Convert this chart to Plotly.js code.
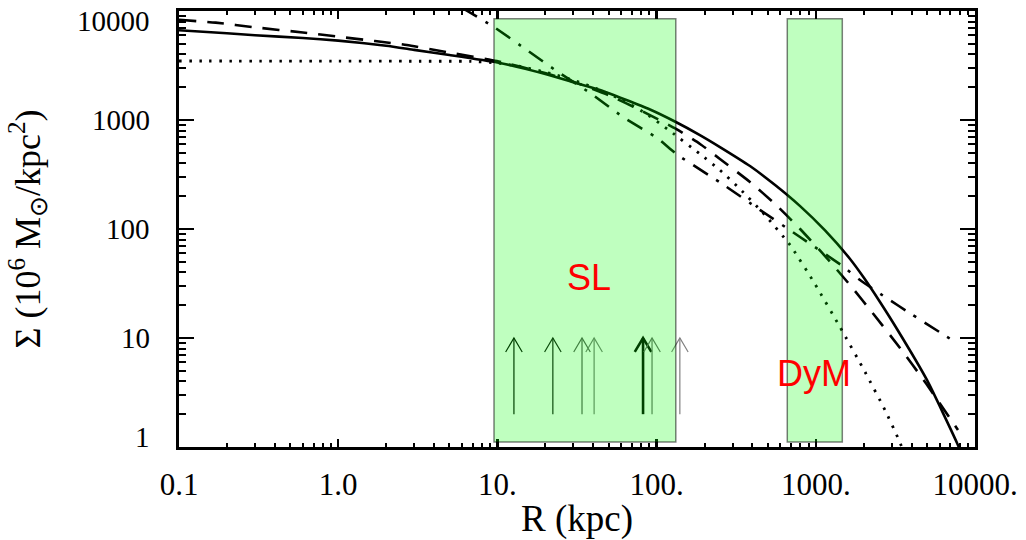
<!DOCTYPE html>
<html>
<head>
<meta charset="utf-8">
<script src="https://cdn.plot.ly/plotly-3.0.1.min.js"></script>
<style>html,body{margin:0;padding:0;background:#fff;}#chart{width:1026px;height:540px;}</style>
</head>
<body>
<div id="chart"></div>
<script>
// ---- data ----
const solidR = [0.1, 0.2, 0.3, 0.6, 1, 2, 3, 5, 10, 20, 30, 44.1, 90.9, 132, 187, 250, 386, 555, 797, 1143, 1641, 2010, 2531, 3236, 4990, 7710, 8650];
const solidS = [6650, 6250, 6000, 5650, 5350, 4800, 4400, 3950, 3370, 2643, 2218, 1884, 1248, 959, 728, 565, 378, 253, 162, 97, 53.1, 35.5, 21.4, 12.1, 4.12, 1.09, 0.73];

const dashedR = [0.1, 0.17, 0.3, 0.6, 1, 1.7, 2.7, 5, 9.94, 19.9, 29.9, 50.6, 79.8, 132.4, 187.5, 250, 386, 555, 797, 1143, 1641, 2355, 3381, 4853, 7818];
const dashedS = [8300, 7820, 7080, 6350, 5810, 5300, 4880, 4150, 3478, 2700, 2250, 1678, 1222, 827, 603, 439, 270, 169.5, 100, 56.5, 30.6, 15.9, 8.1, 3.95, 1.43];

const dottedR = [0.1, 1, 3, 6.73, 9.94, 13.9, 19.9, 29.9, 44.1, 58.9, 84.5, 121.4, 187.5, 250, 334, 480, 689, 988, 1419, 2038, 2722, 3283, 3631];
const dottedS = [3478, 3470, 3460, 3450, 3334, 3097, 2755, 2327, 1884, 1559, 1161, 792, 487, 347, 233, 134, 71.3, 31.3, 12.6, 4.88, 2.18, 1.21, 0.85];

const dashdotR = [6.0, 9.5, 15.3, 24, 38.2, 61.5, 100.6, 136, 250, 445, 800, 1462, 1897, 2720, 4000, 7500];
const dashdotS = [10700, 7130, 4390, 2760, 1770, 1066, 684, 477, 268, 150, 84, 46, 34, 23.8, 16.5, 9.2];

// arrows (lower limits) : position, base, tip
const arrowR = [12.7, 22.3, 34.0, 40.5, 82.2, 93.6, 140];
const arrowBase = [2, 2, 2, 2, 2, 2, 2];
const arrowTip = [10, 10, 10, 10, 10, 10, 10];
const arrowColor = ['#000000', '#111111', '#555555', '#777777', '#000000', '#666666', '#808080'];
const arrowWidth = [1.2, 1.2, 1.2, 1.2, 2.6, 1.2, 1.2];

// shaded regions
const regionNames = ['SL', 'DyM'];
const regionR0 = [9.52, 662];
const regionR1 = [132, 1467];
const regionS0 = [1.11, 1.11];
const regionS1 = [8500, 8500];
const labelR = [37.6, 975];
const labelS = [36, 4.7];

// ticks
const xTickVals = [0.1, 1, 10, 100, 1000, 10000];
const xTickText = ['0.1', '1.0', '10.', '100.', '1000.', '10000.'];
const yTickVals = [1, 10, 100, 1000, 10000];
const yTickText = ['1', '10', '100', '1000', '10000'];
const yTickShift = [10, 0, 0, 0, -10];

function minorVals(lo, hi) {
  const out = [];
  for (let d = lo; d < hi; d *= 10) for (let k = 2; k <= 9; k++) out.push(+(d * k).toPrecision(6));
  return out;
}

const serif = 'Liberation Serif, Times New Roman, serif';
const sm = 0.5;
const traces = [
  {x: solidR, y: solidS, mode: 'lines', line: {color: '#000', width: 2.6, shape: 'spline', smoothing: sm}, hoverinfo: 'skip'},
  {x: dashedR, y: dashedS, mode: 'lines', line: {color: '#000', width: 2.6, dash: '17px,11px', shape: 'spline', smoothing: sm}, hoverinfo: 'skip'},
  {x: dottedR, y: dottedS, mode: 'lines', line: {color: '#000', width: 2.8, dash: '2.5px,7.5px', shape: 'spline', smoothing: sm}, hoverinfo: 'skip'},
  {x: dashdotR, y: dashdotS, mode: 'lines', line: {color: '#000', width: 2.6, dash: '17px,10px,3px,10px', shape: 'spline', smoothing: sm}, hoverinfo: 'skip'}
];

const headDX = Math.pow(10, 0.052), headDY = Math.pow(10, 0.128);
arrowR.forEach((r, i) => {
  traces.push({
    x: [r, r, null, r / headDX, r, r * headDX],
    y: [arrowBase[i], arrowTip[i], null, arrowTip[i] / headDY, arrowTip[i], arrowTip[i] / headDY],
    mode: 'lines', line: {color: arrowColor[i], width: arrowWidth[i]}, hoverinfo: 'skip'
  });
});

const shapes = regionNames.map((n, i) => ({
  type: 'rect', xref: 'x', yref: 'y', layer: 'above',
  x0: regionR0[i], x1: regionR1[i], y0: regionS0[i], y1: regionS1[i],
  fillcolor: 'rgba(0,255,0,0.25)', line: {color: 'rgba(0,0,0,0.5)', width: 1.5}
}));

const annotations = regionNames.map((n, i) => ({
  x: Math.log10(labelR[i]), y: Math.log10(labelS[i]), xref: 'x', yref: 'y',
  text: n, showarrow: false,
  font: {family: 'Liberation Sans, Arial, sans-serif', size: 36, color: '#ff0000'}
}));
// y tick labels (IDL style: end labels pulled inward)
yTickVals.forEach((v, i) => {
  annotations.push({
    x: 0, xref: 'paper', y: Math.log10(v), yref: 'y', xanchor: 'right', yanchor: 'middle',
    xshift: -27, yshift: yTickShift[i], text: yTickText[i], showarrow: false,
    font: {family: serif, size: 29, color: '#000'}
  });
});

const axisCommon = {
  type: 'log', showgrid: false, zeroline: false,
  showline: true, linecolor: '#000', linewidth: 3, mirror: 'allticks',
  ticks: 'inside', tickcolor: '#000', tickwidth: 2.5,
  tickmode: 'array'
};

const layout = {
  width: 1026, height: 540,
  margin: {l: 179, r: 51, t: 11, b: 93},
  paper_bgcolor: '#fff', plot_bgcolor: '#fff',
  showlegend: false,
  font: {family: serif, color: '#000'},
  xaxis: Object.assign({}, axisCommon, {
    range: [-1, 4], tickvals: xTickVals, ticktext: xTickText, ticklen: 8,
    tickfont: {family: serif, size: 31, color: '#000'},
    ticklabelstandoff: 8, ticklabeloverflow: 'allow',
    minor: {tickmode: 'array', tickvals: minorVals(0.1, 10000), ticks: 'inside', ticklen: 4, tickwidth: 2, tickcolor: '#000'},
    title: {text: 'R (kpc)', font: {family: serif, size: 37}, standoff: 0}
  }),
  yaxis: Object.assign({}, axisCommon, {
    range: [0, 4], tickvals: yTickVals, ticktext: yTickText, ticklen: 15,
    showticklabels: false,
    minor: {tickmode: 'array', tickvals: minorVals(1, 10000), ticks: 'inside', ticklen: 7, tickwidth: 2, tickcolor: '#000'},
    title: {text: 'Σ (10<sup>6</sup> M<sub>⊙</sub>/kpc<sup>2</sup>)', font: {family: serif, size: 36}, standoff: 125}
  }),
  shapes: shapes,
  annotations: annotations
};

Plotly.newPlot('chart', traces, layout, {staticPlot: true, displayModeBar: false});
</script>
</body>
</html>
